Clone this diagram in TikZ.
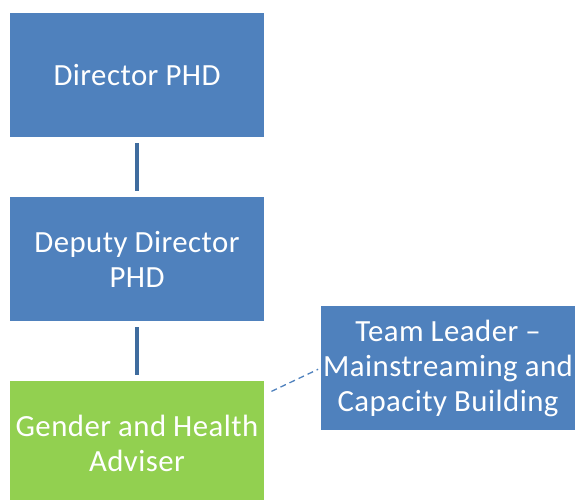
\documentclass[tikz,border=0pt]{standalone}
\usepackage{fontspec}
\setmainfont{Carlito}[LetterSpace=1.5,WordSpace=0.95]
\usetikzlibrary{calc}
\definecolor{boxblue}{HTML}{4F81BD}
\definecolor{linkblue}{HTML}{3F6C9E}
\definecolor{advgreen}{HTML}{92D050}
\begin{document}
\begin{tikzpicture}[x=1pt,y=-1pt,
  orgbox/.style={fill=boxblue, draw=none, minimum width=254pt, minimum height=124pt,
    align=center, text=white, font=\fontsize{30.8}{35}\selectfont, inner sep=0pt},
  greenbox/.style={orgbox, fill=advgreen},
  solidlink/.style={draw=linkblue, line width=3.5pt, shorten <=6pt, shorten >=6pt},
  dottedlink/.style={draw=boxblue, line width=1.3pt, dash pattern=on 6pt off 4pt}]
\useasboundingbox (0,0) rectangle (576,499);
\node[orgbox] (dir) at (137,75) {Director PHD};
\node[orgbox] (dep) at (137,259) {Deputy Director\\PHD};
\node[greenbox] (adv) at (137,443) {Gender and Health\\Adviser};
\node[orgbox] (team) at (448,368) {Team Leader –\\Mainstreaming and\\Capacity Building};
\draw[solidlink] (dir) -- (dep);
\draw[solidlink] (dep) -- (adv);
\coordinate (advpt) at ($(adv.north east)+(0,14)$);
\draw[dottedlink, shorten <=8pt, shorten >=3pt] (advpt) -- (team.west);
\end{tikzpicture}
\end{document}
